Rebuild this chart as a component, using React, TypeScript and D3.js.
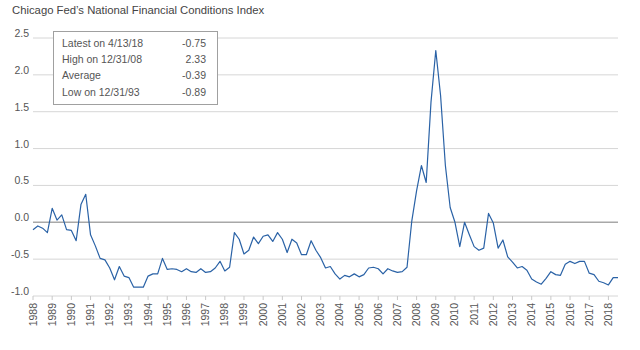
import React, { useEffect, useRef } from "react";
import * as d3 from "d3";

// quarterly readings, 1988 Q1 through 2018 Q3 (last = latest weekly value)
const startYear = 1988;
const nfciValues = [
  -0.1, -0.05, -0.08, -0.14, 0.19, 0.03, 0.1, -0.1, -0.11, -0.25, 0.24, 0.38,
  -0.17, -0.32, -0.49, -0.51, -0.62, -0.78, -0.6, -0.73, -0.75, -0.88, -0.88, -0.88,
  -0.73, -0.7, -0.7, -0.49, -0.64, -0.63, -0.64, -0.67, -0.63, -0.67, -0.68, -0.63,
  -0.68, -0.67, -0.62, -0.53, -0.66, -0.61, -0.14, -0.23, -0.43, -0.38, -0.2, -0.29,
  -0.19, -0.17, -0.26, -0.14, -0.23, -0.41, -0.23, -0.28, -0.44, -0.44, -0.25, -0.38,
  -0.48, -0.62, -0.6, -0.7, -0.77, -0.72, -0.74, -0.7, -0.74, -0.71, -0.62, -0.61,
  -0.63, -0.7, -0.63, -0.66, -0.68, -0.67, -0.61, 0.02, 0.43, 0.77, 0.54, 1.63,
  2.33, 1.72, 0.77, 0.2, 0.0, -0.33, 0.0, -0.17, -0.33, -0.38, -0.35, 0.12,
  -0.01, -0.35, -0.24, -0.47, -0.54, -0.62, -0.6, -0.65, -0.77, -0.81, -0.84, -0.76,
  -0.67, -0.71, -0.72, -0.57, -0.53, -0.56, -0.53, -0.53, -0.69, -0.71, -0.8, -0.82,
  -0.85, -0.75, -0.75,
];

const yTicks = [-1.0, -0.5, 0.0, 0.5, 1.0, 1.5, 2.0, 2.5];
const yearTicks = d3.range(1988, 2019);

const statLabels = ["Latest on 4/13/18", "High on 12/31/08", "Average", "Low on 12/31/93"];
const statValues = ["-0.75", "2.33", "-0.39", "-0.89"];

const title = "Chicago Fed\u2019s National Financial Conditions Index";

const W = 640;
const H = 350;
const margin = { top: 38, right: 22, bottom: 54, left: 33 };
const font = "'Liberation Sans', Arial, sans-serif";
const textColor = "#555";

export default function App() {
  const ref = useRef<SVGSVGElement>(null);

  useEffect(() => {
    if (!ref.current) return;
    const svg = d3.select(ref.current);
    svg.selectAll("*").remove();

    const data = nfciValues.map((v, i) => ({ t: startYear + i / 4, v }));

    const x = d3
      .scaleLinear()
      .domain([startYear, data[data.length - 1].t])
      .range([margin.left, W - margin.right]);
    const y = d3
      .scaleLinear()
      .domain([-1, 2.5])
      .range([H - margin.bottom, margin.top]);

    svg
      .append("text")
      .attr("x", 12)
      .attr("y", 14)
      .attr("font-family", font)
      .attr("font-size", 11.3)
      .attr("fill", "#444")
      .text(title);

    // gridlines
    svg
      .append("g")
      .selectAll("line")
      .data(yTicks)
      .join("line")
      .attr("x1", margin.left)
      .attr("x2", W - margin.right)
      .attr("y1", (d) => y(d))
      .attr("y2", (d) => y(d))
      .attr("stroke", (d) => (d === 0 ? "#a8a8a8" : "#d6d6d6"))
      .attr("stroke-width", (d) => (d === 0 ? 1.6 : 1));

    // y labels
    svg
      .append("g")
      .selectAll("text")
      .data(yTicks)
      .join("text")
      .attr("x", 29)
      .attr("y", (d) => y(d) - 1)
      .attr("text-anchor", "end")
      .attr("font-family", font)
      .attr("font-size", 10.5)
      .attr("fill", textColor)
      .text((d) => d.toFixed(1));

    // bottom ticks + year labels
    const axisY = y(-1);
    const xg = svg.append("g");
    xg.selectAll("line")
      .data(yearTicks)
      .join("line")
      .attr("x1", (d) => x(d))
      .attr("x2", (d) => x(d))
      .attr("y1", axisY)
      .attr("y2", axisY + 4)
      .attr("stroke", "#c8c8c8");
    xg.selectAll("text")
      .data(yearTicks)
      .join("text")
      .attr("transform", (d) => `translate(${x(d) + 3.5},${axisY + 7}) rotate(-90)`)
      .attr("text-anchor", "end")
      .attr("font-family", font)
      .attr("font-size", 10.5)
      .attr("fill", textColor)
      .text((d) => d);

    const line = d3
      .line<{ t: number; v: number }>()
      .x((d) => x(d.t))
      .y((d) => y(d.v));

    svg
      .append("path")
      .datum(data)
      .attr("d", line)
      .attr("fill", "none")
      .attr("stroke", "#2a62a6")
      .attr("stroke-width", 1.2)
      .attr("stroke-linejoin", "round");

    // stats box
    const box = svg.append("g");
    box
      .append("rect")
      .attr("x", 53.5)
      .attr("y", 31.5)
      .attr("width", 164)
      .attr("height", 73)
      .attr("fill", "#fff")
      .attr("stroke", "#a0a0a0");
    const rows = box
      .selectAll("g")
      .data(statLabels)
      .join("g")
      .attr("transform", (d, i) => `translate(0,${46.5 + i * 16.4})`);
    rows
      .append("text")
      .attr("x", 62)
      .attr("font-family", font)
      .attr("font-size", 10.5)
      .attr("fill", textColor)
      .text((d) => d);
    rows
      .append("text")
      .attr("x", 206)
      .attr("text-anchor", "end")
      .attr("font-family", font)
      .attr("font-size", 10.5)
      .attr("fill", textColor)
      .text((d, i) => statValues[i]);
  }, []);

  return (
    <svg
      ref={ref}
      width={W}
      height={H}
      style={{ position: "absolute", left: 0, top: 0, background: "#fff" }}
    />
  );
}
